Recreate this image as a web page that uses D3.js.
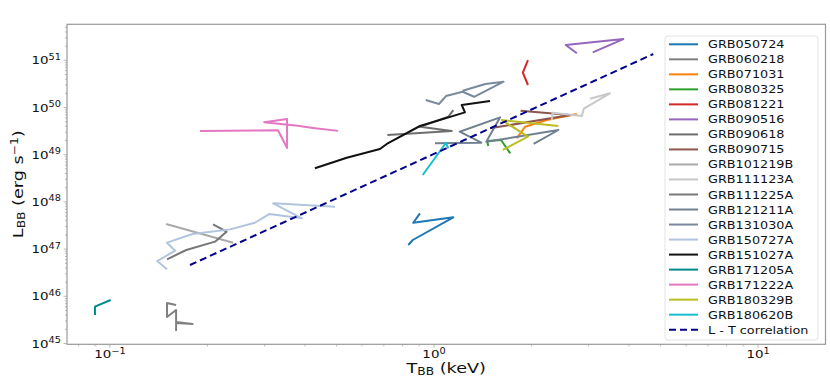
<!DOCTYPE html>
<html><head><meta charset="utf-8">
<script src="https://cdn.jsdelivr.net/npm/d3@7"></script>
<style>body{margin:0;background:#fff} text{font-family:"DejaVu Sans",sans-serif;fill:#111}</style>
</head><body><svg id="c" width="830" height="382"></svg>
<script>
const names = ["GRB050724","GRB060218","GRB071031","GRB080325","GRB081221","GRB090516","GRB090618","GRB090715","GRB101219B","GRB111123A","GRB111225A","GRB121211A","GRB131030A","GRB150727A","GRB151027A","GRB171205A","GRB171222A","GRB180329B","GRB180620B"];
const colors = ["#1f77b4","#808080","#ff7f0e","#2ca02c","#d62728","#9467bd","#6e6e6e","#8c564b","#a9a9a9","#c8c8c8","#777777","#708090","#7a8a9c","#b0c4de","#111111","#008b8b","#e377c2","#bcbd22","#17becf"];
const tValues = [
  [0.833,0.860,1.147,0.863,0.905],
  [0.160,0.150,0.150,0.160,0.160,0.180,0.160,0.160],
  [1.80,1.91,2.23,2.76],
  [1.47,1.46,1.61,1.72],
  [1.95,1.88,1.95],
  [2.76,2.55,3.84,3.09],
  [1.147,1.107,0.905,1.134,0.718],
  [1.49,2.63,1.85],
  [0.149,0.240],
  [2.31,2.32,2.86,2.90,3.49,3.03],
  [0.150,0.172,0.211,0.229,0.208],
  [1.007,1.40,1.20,1.60,1.45,2.42,2.03],
  [0.943,1.036,1.089,1.226,1.33,1.64,1.44,1.226],
  [0.150,0.140,0.159,0.150,0.180,0.235,0.280,0.310,0.391,0.319,0.495],
  [0.429,0.538,0.681,0.715,0.905,1.246,1.218,1.489],
  [0.0899,0.0899,0.1005],
  [0.1897,0.330,0.352,0.352,0.299,0.380,0.423,0.506],
  [2.42,1.62,1.95,1.63],
  [0.923,1.089,1.107]
];
const lValues = [
  [1.22e47,1.56e47,4.72e47,3.62e47,5.73e47],
  [6.55e45,7.2e45,3.64e45,5.13e45,2.86e45,2.59e45,2.72e45,1.84e45],
  [2.22e49,3.92e49,5.43e49,7.28e49],
  [1.53e49,1.95e49,2.05e49,1.07e49],
  [1.01e51,5.46e50,3.0e50],
  [1.41e51,2.11e51,2.82e51,1.48e51],
  [8.85e49,6.38e49,3.92e49,3.18e49,2.61e49],
  [3.62e49,6.93e49,8.55e49],
  [3.4e47,1.37e47],
  [5.43e49,7.76e49,6.6e49,9.43e49,2.0e50,1.54e50],
  [6.08e46,9.57e46,1.44e47,2.34e47,3.35e47],
  [1.75e49,1.80e49,3.07e49,6.2e49,1.88e49,3.34e49,1.69e49],
  [1.44e50,1.19e50,1.75e50,2.16e50,1.69e50,3.52e50,3.15e50,2.27e50],
  [3.73e46,5.6e46,9.25e46,1.37e47,2.09e47,2.62e47,3.62e47,5.54e47,4.5e47,9.33e47,7.9e47],
  [5.15e48,8.6e48,1.32e49,1.69e49,4.06e49,7.9e49,1.13e50,1.37e50],
  [4.02e45,6.03e45,8.35e45],
  [3.2e49,3.3e49,1.39e49,5.7e49,4.9e49,4.1e49,3.7e49,3.2e49],
  [4.06e49,5.43e49,2.41e49,1.26e49],
  [3.72e48,1.79e49,1.37e49]
];
const corrT = [0.1766, 4.75];
const corrL = [4.6e46, 1.36e51];
const xTicks = [0.1, 1, 10];
const xTickExp = ["\u22121","0","1"];
const yTicks = [1e45,1e46,1e47,1e48,1e49,1e50,1e51];
const yTickExp = ["45","46","47","48","49","50","51"];

const svg = d3.select("#c");
const L = 67, R = 825.5, T = 24.3, B = 344.3;
const x = d3.scaleLog().domain([0.0737, 16.15]).range([L, R]);
const y = d3.scaleLog().domain([9.62e44, 5.8e51]).range([B, T]);
const SX = 1.22;

// minor ticks
const minorX = [];
[0.01,0.1,1,10].forEach(d=>{for(let k=2;k<10;k++){const v=d*k; if(v>0.0737&&v<16.15) minorX.push(v);}});
const minorY = [];
for(let e=44;e<=51;e++){for(let k=2;k<10;k++){const v=k*Math.pow(10,e); if(v>9.62e44&&v<5.8e51) minorY.push(v);}}
const g = svg.append("g");
g.selectAll(".mx").data(minorX).join("line").attr("x1",d=>x(d)).attr("x2",d=>x(d)).attr("y1",B).attr("y2",B+2).attr("stroke","#aaa").attr("stroke-width",0.8);
g.selectAll(".Mx").data(xTicks).join("line").attr("x1",d=>x(d)).attr("x2",d=>x(d)).attr("y1",B).attr("y2",B+3.5).attr("stroke","#aaa").attr("stroke-width",0.8);
g.selectAll(".my").data(minorY).join("line").attr("y1",d=>y(d)).attr("y2",d=>y(d)).attr("x1",L).attr("x2",L-2).attr("stroke","#aaa").attr("stroke-width",0.8);
g.selectAll(".My").data(yTicks).join("line").attr("y1",d=>y(d)).attr("y2",d=>y(d)).attr("x1",L).attr("x2",L-3.5).attr("stroke","#aaa").attr("stroke-width",0.8);

// data lines
const line = d3.line().x(d=>x(d[0])).y(d=>y(d[1]));
names.forEach((n,i)=>{
  const pts = tValues[i].map((t,j)=>[t,lValues[i][j]]);
  svg.append("path").attr("d",line(pts)).attr("fill","none").attr("stroke",colors[i]).attr("stroke-width",2).attr("stroke-linejoin","round");
});
svg.append("path").attr("d",line(corrT.map((t,j)=>[t,corrL[j]]))).attr("fill","none").attr("stroke","#00008b").attr("stroke-width",2).attr("stroke-dasharray","7,4");

// frame
svg.append("rect").attr("x",L).attr("y",T).attr("width",R-L).attr("height",B-T).attr("fill","none").attr("stroke","#999").attr("stroke-width",1.2);

// tick labels
xTicks.forEach((d,i)=>{
  const t = svg.append("text").attr("text-anchor","middle").attr("font-size",11)
    .attr("transform",`translate(${x(d)},${B+14}) scale(${SX},1)`);
  t.append("tspan").text("10");
  t.append("tspan").attr("dy",-4.5).attr("font-size",8).text(xTickExp[i]);
});
yTicks.forEach((d,i)=>{
  const t = svg.append("text").attr("text-anchor","end").attr("font-size",11)
    .attr("transform",`translate(${L-6},${y(d)+4}) scale(${SX},1)`);
  t.append("tspan").text("10");
  t.append("tspan").attr("dy",-4.5).attr("font-size",8).text(yTickExp[i]);
});

// axis labels
const xl = svg.append("text").attr("text-anchor","middle").attr("font-size",14.5)
  .attr("transform",`translate(${(L+R)/2},373) scale(${SX},1)`);
xl.append("tspan").text("T");
xl.append("tspan").attr("font-size",10).attr("dy",2).text("BB");
xl.append("tspan").attr("dy",-2).text(" (keV)");
const yl = svg.append("text").attr("text-anchor","middle").attr("font-size",14.5)
  .attr("transform",`translate(23,${(T+B)/2}) rotate(-90) scale(${SX},1)`);
yl.append("tspan").text("L");
yl.append("tspan").attr("font-size",10).attr("dy",2).text("BB");
yl.append("tspan").attr("dy",-2).text(" (erg s");
yl.append("tspan").attr("font-size",10).attr("dy",-5).text("\u22121");
yl.append("tspan").attr("dy",5).text(")");

// legend
const lg = svg.append("g");
lg.append("rect").attr("x",665).attr("y",36).attr("width",153).attr("height",304).attr("rx",3)
  .attr("fill","#fff").attr("fill-opacity",0.8).attr("stroke","#e3e3e3").attr("stroke-width",1);
const entries = names.map((n,i)=>({n,c:colors[i],dash:false})).concat([{n:"L - T correlation",c:"#00008b",dash:true}]);
entries.forEach((e,i)=>{
  const yy = 44.3 + i*15.02;
  lg.append("line").attr("x1",669).attr("x2",698).attr("y1",yy).attr("y2",yy).attr("stroke",e.c).attr("stroke-width",2)
    .attr("stroke-dasharray",e.dash?"7,4":null);
  lg.append("text").attr("font-size",10.5).attr("transform",`translate(708,${yy+4}) scale(${SX},1)`).text(e.n);
});
</script></body></html>
